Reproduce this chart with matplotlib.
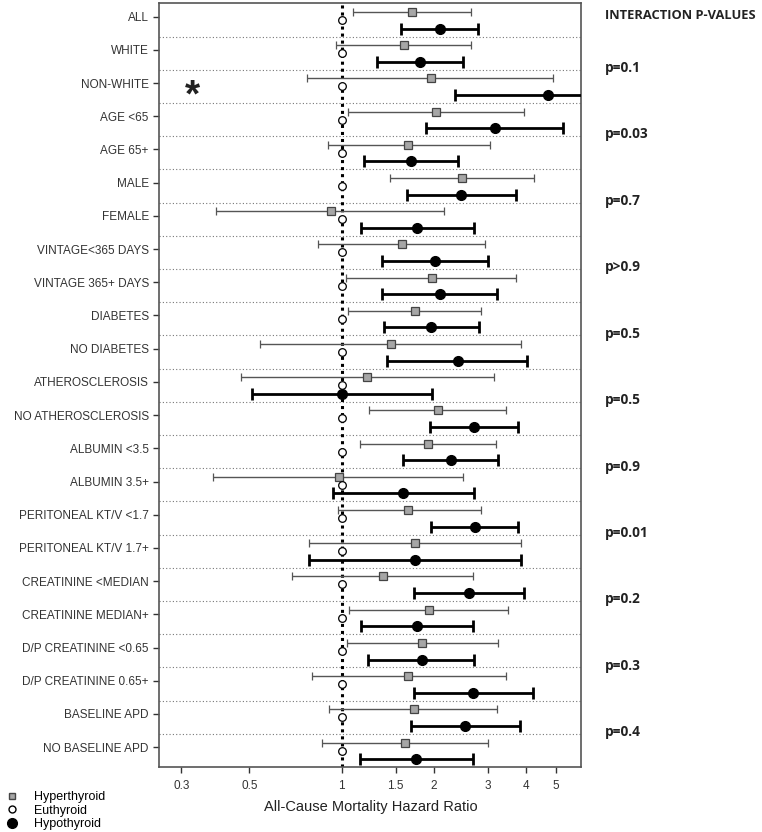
import numpy as np
import matplotlib.pyplot as plt

plt.rcParams['font.family'] = ['Liberation Sans', 'DejaVu Sans']

# Subgroups (top to bottom)
groups = ['ALL', 'WHITE', 'NON-WHITE', 'AGE <65', 'AGE 65+', 'MALE', 'FEMALE',
          'VINTAGE<365 DAYS', 'VINTAGE 365+ DAYS', 'DIABETES', 'NO DIABETES',
          'ATHEROSCLEROSIS', 'NO ATHEROSCLEROSIS', 'ALBUMIN <3.5', 'ALBUMIN 3.5+',
          'PERITONEAL KT/V <1.7', 'PERITONEAL KT/V 1.7+', 'CREATININE <MEDIAN',
          'CREATININE MEDIAN+', 'D/P CREATININE <0.65', 'D/P CREATININE 0.65+',
          'BASELINE APD', 'NO BASELINE APD']

# Hyperthyroid hazard ratios and 95% CI
hyper_hr = [1.70, 1.60, 1.95, 2.03, 1.65, 2.47, 0.92, 1.57, 1.97, 1.73, 1.45,
            1.21, 2.06, 1.92, 0.98, 1.65, 1.74, 1.36, 1.93, 1.83, 1.65, 1.72, 1.61]
hyper_lo = [1.09, 0.96, 0.77, 1.05, 0.90, 1.44, 0.39, 0.84, 1.03, 1.05, 0.54,
            0.47, 1.23, 1.15, 0.38, 0.97, 0.78, 0.69, 1.06, 1.04, 0.80, 0.91, 0.86]
hyper_hi = [2.64, 2.64, 4.90, 3.94, 3.06, 4.25, 2.16, 2.93, 3.71, 2.85, 3.86,
            3.14, 3.43, 3.20, 2.48, 2.84, 3.85, 2.68, 3.48, 3.24, 3.43, 3.22, 3.00]

# Hypothyroid hazard ratios and 95% CI
hypo_hr = [2.09, 1.80, 4.71, 3.16, 1.68, 2.45, 1.76, 2.02, 2.09, 1.96, 2.39,
           1.00, 2.70, 2.27, 1.59, 2.72, 1.74, 2.61, 1.76, 1.83, 2.68, 2.53, 1.75]
hypo_lo = [1.56, 1.30, 2.35, 1.89, 1.18, 1.63, 1.16, 1.35, 1.35, 1.37, 1.41,
           0.51, 1.94, 1.59, 0.94, 1.96, 0.78, 1.72, 1.16, 1.22, 1.72, 1.68, 1.15]
hypo_hi = [2.78, 2.49, 9.00, 5.28, 2.40, 3.70, 2.70, 3.01, 3.21, 2.80, 4.03,
           1.97, 3.75, 3.25, 2.70, 3.77, 3.86, 3.94, 2.68, 2.70, 4.22, 3.82, 2.68]

# Interaction p-values, placed at the boundary below the group index
p_labels = ['p=0.1', 'p=0.03', 'p=0.7', 'p>0.9', 'p=0.5', 'p=0.5', 'p=0.9',
            'p=0.01', 'p=0.2', 'p=0.3', 'p=0.4']
p_rows = [2, 4, 6, 8, 10, 12, 14, 16, 18, 20, 22]

n = len(groups)
idx = np.arange(n)
y_hyper = idx + 0.26
y_eu = idx + 0.5
y_hypo = idx + 0.76

fig = plt.figure(figsize=(7.62, 8.32), dpi=100)
ax = fig.add_axes([0.209, 0.078, 0.554, 0.918])
ax.set_xscale('log')

# separators between subgroups
for b in range(1, n):
    ax.axhline(b, color='#777777', lw=0.8, ls=(0, (1, 2)), zorder=1)

# reference line at HR = 1
ax.axvline(1, color='black', lw=2.2, ls=(0, (1, 1.3)), zorder=2)

hyper_hr = np.array(hyper_hr)
hypo_hr = np.array(hypo_hr)
ax.errorbar(hyper_hr, y_hyper,
            xerr=[hyper_hr - np.array(hyper_lo), np.array(hyper_hi) - hyper_hr],
            fmt='s', ms=5.5, mfc='#a6a6a6', mec='#444444', mew=0.9,
            ecolor='#555555', elinewidth=1.0, capsize=3, capthick=1.0, zorder=3)
ax.errorbar(hypo_hr, y_hypo,
            xerr=[hypo_hr - np.array(hypo_lo), np.array(hypo_hi) - hypo_hr],
            fmt='o', ms=7, mfc='black', mec='black',
            ecolor='black', elinewidth=2.0, capsize=4.2, capthick=2.0, zorder=3)
ax.plot(np.ones(n), y_eu, 'o', ms=5.5, mfc='white', mec='black', mew=0.9,
        ls='none', zorder=4)

ax.set_xlim(0.254, 6.06)
ax.set_ylim(n, 0)
ax.set_xticks([0.3, 0.5, 1, 1.5, 2, 3, 4, 5])
ax.set_xticklabels(['0.3', '0.5', '1', '1.5', '2', '3', '4', '5'])
ax.xaxis.set_minor_locator(plt.NullLocator())
ax.set_yticks(idx + 0.4)
ax.set_yticklabels(groups)
ax.tick_params(axis='both', labelsize=8.5, colors='#333333', length=4, width=1)
ax.tick_params(axis='x', pad=5)
for s in ax.spines.values():
    s.set_color('#555555')
    s.set_linewidth(1.2)
ax.set_xlabel('All-Cause Mortality Hazard Ratio', fontsize=10.5, color='#222222',
              labelpad=6)

# asterisk for non-white group
ax.text(0.327, 2.8, '*', fontsize=28, fontweight='bold', ha='center',
        va='center', color='#222222')

# interaction p-values on the right
fig.text(0.794, 0.981, 'INTERACTION P-VALUES', fontsize=9.3, fontweight='bold',
         family='Open Sans', va='center', ha='left', color='#222222')
for lab, r in zip(p_labels, p_rows):
    ax.text(1.055, 1 - (r - 0.05) / n, lab, transform=ax.transAxes,
            fontsize=9.8, fontweight='bold', family='Open Sans',
            va='center', ha='left', color='#222222')

# legend in bottom-left corner
fig.legend(handles=[
    plt.Line2D([], [], marker='s', ls='none', ms=5, mfc='#a6a6a6', mec='#444444'),
    plt.Line2D([], [], marker='o', ls='none', ms=5, mfc='white', mec='black'),
    plt.Line2D([], [], marker='o', ls='none', ms=7, mfc='black', mec='black')],
    labels=['Hyperthyroid', 'Euthyroid', 'Hypothyroid'],
    loc='lower left', bbox_to_anchor=(-0.004, -0.008), frameon=False, fontsize=9,
    handletextpad=1.3, labelspacing=0.1, borderpad=0.2, handlelength=1)

fig.savefig('out.png', dpi=100)
